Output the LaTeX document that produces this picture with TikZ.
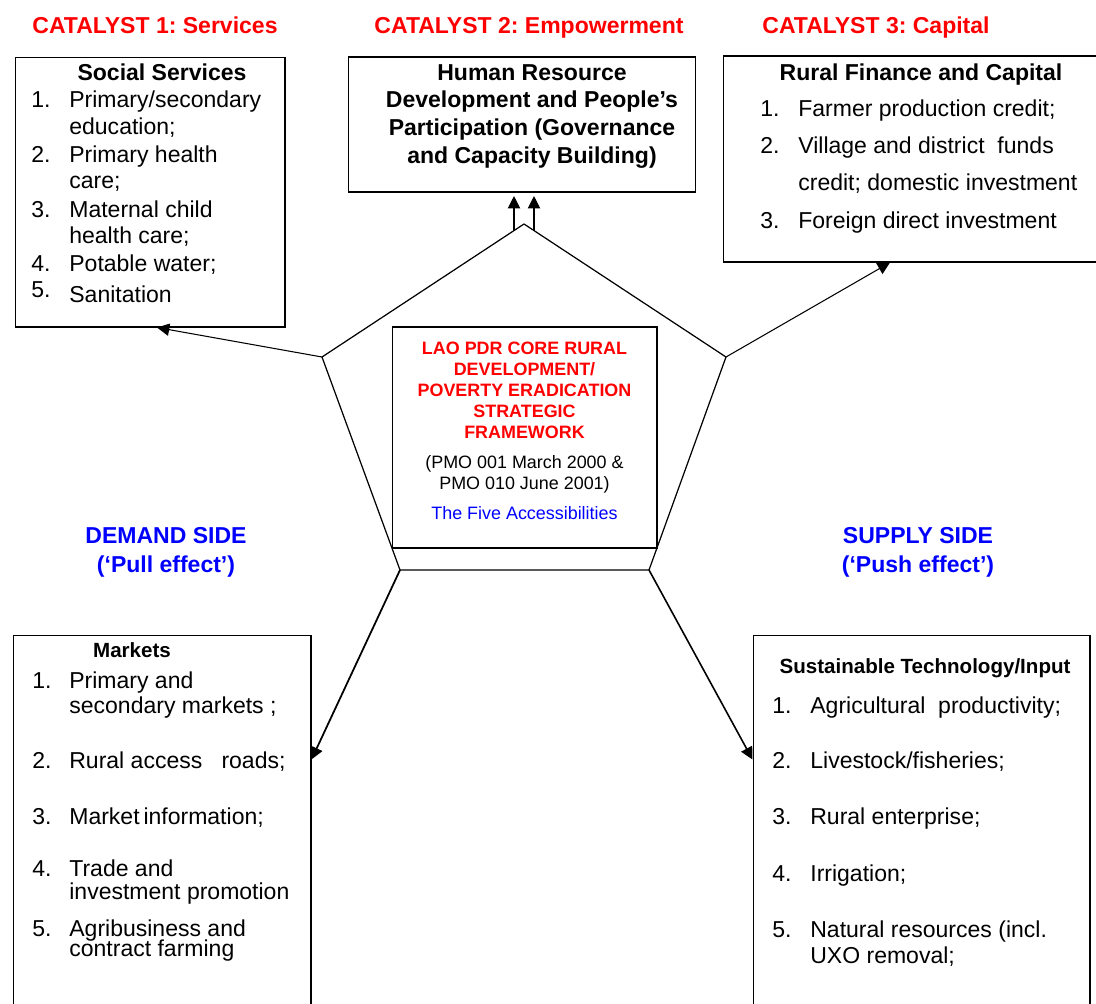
\documentclass[tikz,border=0pt]{standalone}
\usepackage{fontspec}
\setmainfont{Liberation Sans}
\usetikzlibrary{arrows.meta}
\frenchspacing

\newcommand\txtbig{\fontsize{13.1pt}{15.5pt}\selectfont}
\newcommand\txtmid{\fontsize{11.7pt}{14pt}\selectfont}
\newcommand\txtsmall{\fontsize{10.2pt}{12pt}\selectfont}
\definecolor{catred}{RGB}{255,0,0}
\definecolor{sideblue}{RGB}{0,0,255}

\begin{document}
\begin{tikzpicture}[x=0.02cm, y=-0.02cm,
  box/.style={draw, line width=0.6pt, inner sep=0pt},
  txt/.style={anchor=base west, inner sep=0pt},
  ctr/.style={anchor=base, inner sep=0pt},
  arr/.style={-{Triangle[length=7pt,width=7pt]}, line width=0.6pt}]

 \useasboundingbox (0,0) rectangle (1096,1004);
 \clip (0,0) rectangle (1096,1004);

 % catalysts
 \foreach \x/\t [count=\k] in {155/{CATALYST 1: Services}, 529/{CATALYST 2: Empowerment}, 876/{CATALYST 3: Capital}}
   \node[ctr, text=catred, font=\txtbig\bfseries] (cat\k) at (\x,33) {\t};

 % boxes
 \node[box, minimum width=5.4cm, minimum height=5.4cm] (soc) at (150,192) {};
 \node[box, minimum width=6.96cm, minimum height=2.7cm] (hrd) at (522,124.5) {};
 \node[box, minimum width=7.74cm, minimum height=4.12cm] (fin) at (916.5,159) {};
 \node[box, minimum width=5.96cm, minimum height=7.7cm] (mkt) at (162,827.5) {};
 \node[box, minimum width=6.74cm, minimum height=7.7cm] (tech) at (921.5,827.5) {};

 % pentagon
 \coordinate (pt) at (524,224);
 \coordinate (pl) at (322,357);
 \coordinate (pr) at (726,357);
 \coordinate (pbr) at (649,570);
 \coordinate (pbl) at (400,570);
 \draw[line width=0.7pt] (pt) -- (pr) -- (pbr) -- (pbl) -- (pl) -- cycle;
 \node[box, fill=white, minimum width=5.3cm, minimum height=4.42cm] (core) at (524.5,437.5) {};

 % social services
 \node[ctr, font=\txtbig\bfseries] (socT) at (162,80) {Social Services};
 \foreach \i/\y in {1/107,2/162,3/217,4/271,5/297}
   \node[txt, font=\txtbig] (socN\i) at (31,\y) {\i.};
 \foreach \y/\t [count=\k] in {107/{Primary/secondary}, 134/{education;}, 162/{Primary health}, 188/{care;},
     217/{Maternal child}, 243/{health care;}, 271/{Potable water;}, 302/{Sanitation}}
   \node[txt, font=\txtbig] (socL\k) at (69,\y) {\t};

 % human resources
 \foreach \y/\t [count=\k] in {80/{Human Resource}, 107/{Development and People’s},
     135/{Participation (Governance}, 163/{and Capacity Building)}}
   \node[ctr, font=\txtbig\bfseries] (hrd\k) at (532,\y) {\t};

 % rural finance
 \node[ctr, font=\txtbig\bfseries] (finT) at (921,80) {Rural Finance and Capital};
 \foreach \i/\y in {1/116,2/153,3/228}
   \node[txt, font=\txtbig] (finN\i) at (760,\y) {\i.};
 \foreach \y/\t [count=\k] in {116/{Farmer production credit;}, 153/{Village and district\ \ funds},
     190/{credit; domestic investment}, 228/{Foreign direct investment}}
   \node[txt, font=\txtbig] (finL\k) at (798,\y) {\t};

 % core framework
 \foreach \y/\t [count=\k] in {354/{LAO PDR CORE RURAL}, 375/{DEVELOPMENT/}, 396/{POVERTY ERADICATION},
     417/{STRATEGIC}, 438/{FRAMEWORK}}
   \node[ctr, text=catred, font=\txtsmall\bfseries] (coreR\k) at (524.5,\y) {\t};
 \node[ctr, font=\txtsmall] (coreP1) at (524.5,468) {(PMO 001 March 2000 \&};
 \node[ctr, font=\txtsmall] (coreP2) at (524.5,489) {PMO 010 June 2001)};
 \node[ctr, text=sideblue, font=\txtsmall] (coreB) at (524.5,519) {The Five Accessibilities};

 % demand / supply
 \node[ctr, text=sideblue, font=\txtbig\bfseries] (dem1) at (166,543) {DEMAND SIDE};
 \node[ctr, text=sideblue, font=\txtbig\bfseries] (dem2) at (166,572) {(‘Pull effect’)};
 \node[ctr, text=sideblue, font=\txtbig\bfseries] (sup1) at (918,543) {SUPPLY SIDE};
 \node[ctr, text=sideblue, font=\txtbig\bfseries] (sup2) at (918,572) {(‘Push effect’)};

 % markets
 \node[ctr, font=\txtmid\bfseries] (mktT) at (132,657) {Markets};
 \foreach \i/\y in {1/688,2/768,3/824,4/876,5/936}
   \node[txt, font=\txtbig] (mktN\i) at (32,\y) {\i.};
 \foreach \y/\t [count=\k] in {688/{Primary and}, 713/{secondary markets\ ;}, 768/{Rural access\ \ \ roads;},
     824/{Market\,information;}, 876/{Trade and}, 899/{investment promotion}, 936/{Agribusiness and}, 956/{contract farming}}
   \node[txt, font=\txtbig] (mktL\k) at (69,\y) {\t};

 % technology
 \node[ctr, font=\txtmid\bfseries] (techT) at (925,673) {Sustainable Technology/Input};
 \foreach \i/\y in {1/713,2/768,3/824,4/881,5/937}
   \node[txt, font=\txtbig] (techN\i) at (772,\y) {\i.};
 \foreach \y/\t [count=\k] in {713/{Agricultural\ \ productivity;}, 768/{Livestock/fisheries;}, 824/{Rural enterprise;},
     881/{Irrigation;}, 937/{Natural resources (incl.}, 963/{UXO removal;}}
   \node[txt, font=\txtbig] (techL\k) at (810,\y) {\t};

 % arrows
 \coordinate (a1) at (514,230.6);
 \coordinate (a2) at (534,230.6);
 \foreach \c in {a1,a2}
   \draw[arr, shorten >=2pt] (\c) -- (\c |- hrd.south);
 \draw[arr] (pl) -- ([xshift=0.14cm]soc.south);
 \draw[arr] (pr) -- ([xshift=-0.53cm]fin.south);
 \draw[arr, line width=1pt] (pbl) -- ([yshift=-2.5cm]mkt.north east);
 \draw[arr, line width=0.9pt] (pbr) -- ([yshift=-2.5cm]tech.north west);

\end{tikzpicture}
\end{document}
